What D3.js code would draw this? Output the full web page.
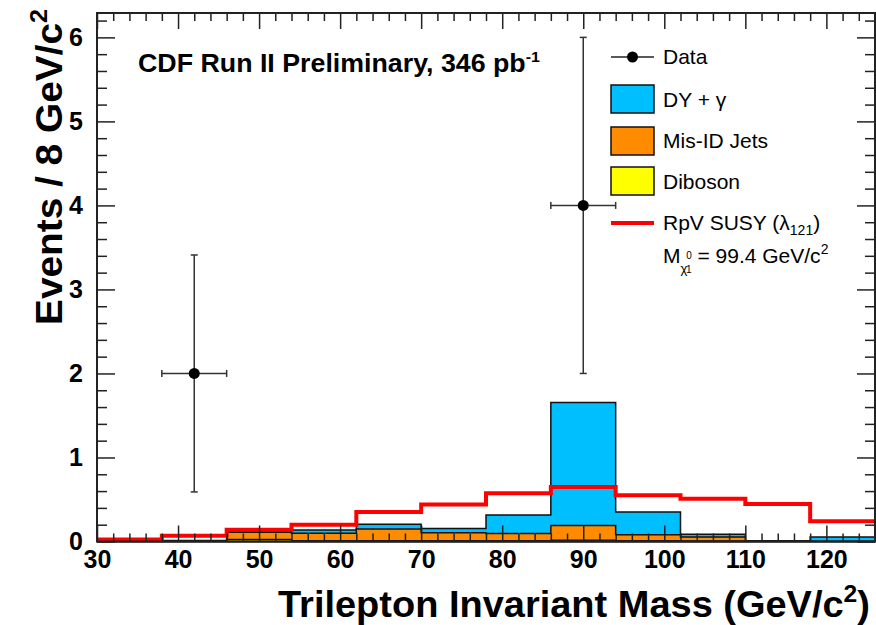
<!DOCTYPE html>
<html>
<head>
<meta charset="utf-8">
<script src="https://cdn.jsdelivr.net/npm/d3@7"></script>
<style>
  body { margin: 0; background: #fff; }
  svg { display: block; font-family: "Liberation Sans", Arial, Helvetica, sans-serif; }
</style>
</head>
<body>
<svg></svg>
<script>
// trilepton mass, CDF run II

const width = 876;
const height = 625;
const margin = { top: 13, right: 1, bottom: 83.5, left: 97 };

// bin edges (GeV/c^2), 8 GeV bins
const binEdges = [30, 38, 46, 54, 62, 70, 78, 86, 94, 102, 110, 118, 126];

// stacked backgrounds, events per bin
const diboson = [0, 0.005, 0.025, 0.01, 0.01, 0.01, 0.01, 0.015, 0.01, 0.005, 0.003, 0];
const misIdJets = [0, 0.005, 0.085, 0.088, 0.14, 0.095, 0.085, 0.175, 0.07, 0.05, 0.005, 0];
const dyGamma = [0, 0.002, 0.003, 0.039, 0.055, 0.05, 0.22, 1.465, 0.27, 0.031, 0.002, 0.055];

// signal curve
const rpvSusy = [0.025, 0.068, 0.14, 0.2, 0.35, 0.44, 0.575, 0.65, 0.55, 0.51, 0.445, 0.24];

// data points
const dataMass = [42, 90];
const dataCounts = [2, 4];
const dataErr = [1.41, 2];

const xTicks = [30, 40, 50, 60, 70, 80, 90, 100, 110, 120];
const yTicks = [0, 1, 2, 3, 4, 5, 6];

const svg = d3.select("svg").attr("width", width).attr("height", height);

const x = d3.scaleLinear()
  .domain([30, 126])
  .range([margin.left, width - margin.right]);

const y = d3.scaleLinear()
  .domain([0, 6.29])
  .range([height - margin.bottom, margin.top]);

//stack
const rows = binEdges.map((e, i) => {
  const j = Math.min(i, diboson.length - 1);
  return { edge: e, diboson: diboson[j], misid: misIdJets[j], dy: dyGamma[j] };
});
const stack = d3.stack().keys(["diboson", "misid", "dy"])(rows);
const colors = { dy: "#00bfff", misid: "#ff8c00", diboson: "#ffff00" };

const area = d3.area()
  .curve(d3.curveStepAfter)
  .x(d => x(d.data.edge))
  .y0(y(0))
  .y1(d => y(d[1]));

// draw total first, then lower layers on top (root style)
const layers = stack.slice().reverse();
svg.append("g")
  .selectAll("path")
  .data(layers)
  .join("path")
  .attr("d", area)
  .attr("fill", d => colors[d.key])
  .attr("stroke", "#111")
  .attr("stroke-width", 1.5);

//red signal line
const sig = binEdges.map((e, i) => ({ edge: e, v: rpvSusy[Math.min(i, rpvSusy.length - 1)] }));
svg.append("path")
  .datum(sig)
  .attr("d", d3.line().curve(d3.curveStepAfter).x(d => x(d.edge)).y(d => y(d.v)))
  .attr("fill", "none")
  .attr("stroke", "#ff0000")
  .attr("stroke-width", 4);

//axes
const axisColor = "#222";
const minorX = d3.range(30, 127, 2).filter(v => v % 10 !== 0);
const minorY = d3.range(0, 6.3, 0.2).filter(v => Math.abs(v - Math.round(v)) > 0.01);

function styleAxis(g) {
  g.select(".domain").remove();
  g.selectAll("line").attr("stroke", axisColor).attr("stroke-width", 1.5);
}

// bottom
svg.append("g")
  .attr("transform", `translate(0,${y(0)})`)
  .call(d3.axisBottom(x).tickValues(minorX).tickSize(-8).tickFormat(""))
  .call(styleAxis);
svg.append("g")
  .attr("transform", `translate(0,${y(0)})`)
  .call(d3.axisBottom(x).tickValues(xTicks).tickSize(-16).tickFormat(d3.format("d")))
  .call(styleAxis)
  .call(g => g.selectAll("text")
    .attr("y", 26).attr("dy", 0)
    .attr("fill", "#000")
    .attr("font-size", 25).attr("font-weight", "bold")
    .attr("font-family", "Liberation Sans, Arial, sans-serif"));

// top
svg.append("g")
  .attr("transform", `translate(0,${margin.top})`)
  .call(d3.axisTop(x).tickValues(minorX).tickSize(-8).tickFormat(""))
  .call(styleAxis);
svg.append("g")
  .attr("transform", `translate(0,${margin.top})`)
  .call(d3.axisTop(x).tickValues(xTicks).tickSize(-16).tickFormat(""))
  .call(styleAxis);

// left
svg.append("g")
  .attr("transform", `translate(${margin.left},0)`)
  .call(d3.axisLeft(y).tickValues(minorY).tickSize(-10).tickFormat(""))
  .call(styleAxis);
svg.append("g")
  .attr("transform", `translate(${margin.left},0)`)
  .call(d3.axisLeft(y).tickValues(yTicks).tickSize(-18).tickFormat(d3.format("d")))
  .call(styleAxis)
  .call(g => g.selectAll("text")
    .attr("x", -14)
    .attr("fill", "#000")
    .attr("font-size", 25).attr("font-weight", "bold")
    .attr("font-family", "Liberation Sans, Arial, sans-serif"));

// right
svg.append("g")
  .attr("transform", `translate(${width - margin.right},0)`)
  .call(d3.axisRight(y).tickValues(minorY).tickSize(-10).tickFormat(""))
  .call(styleAxis);
svg.append("g")
  .attr("transform", `translate(${width - margin.right},0)`)
  .call(d3.axisRight(y).tickValues(yTicks).tickSize(-18).tickFormat(""))
  .call(styleAxis);

// frame
svg.append("rect")
  .attr("x", margin.left)
  .attr("y", margin.top)
  .attr("width", width - margin.right - margin.left)
  .attr("height", y(0) - margin.top)
  .attr("fill", "none")
  .attr("stroke", axisColor)
  .attr("stroke-width", 2);

//data points
const pts = dataMass.map((m, i) => ({ m, n: dataCounts[i], e: dataErr[i] }));
const pg = svg.append("g").attr("stroke", "#333").attr("stroke-width", 1.5);
pts.forEach(p => {
  const cx = x(p.m), cy = y(p.n);
  const xl = x(p.m - 4), xr = x(p.m + 4);
  const yt = y(p.n + p.e), yb = y(p.n - p.e);
  pg.append("line").attr("x1", cx).attr("x2", cx).attr("y1", yt).attr("y2", yb);
  pg.append("line").attr("x1", xl).attr("x2", xr).attr("y1", cy).attr("y2", cy);
  pg.append("line").attr("x1", cx - 3.5).attr("x2", cx + 3.5).attr("y1", yt).attr("y2", yt);
  pg.append("line").attr("x1", cx - 3.5).attr("x2", cx + 3.5).attr("y1", yb).attr("y2", yb);
  pg.append("line").attr("x1", xl).attr("x2", xl).attr("y1", cy - 3.5).attr("y2", cy + 3.5);
  pg.append("line").attr("x1", xr).attr("x2", xr).attr("y1", cy - 3.5).attr("y2", cy + 3.5);
});
svg.append("g")
  .selectAll("circle")
  .data(pts)
  .join("circle")
  .attr("cx", d => x(d.m))
  .attr("cy", d => y(d.n))
  .attr("r", 5.5)
  .attr("fill", "#000");

//legend
const lg = svg.append("g");
const lx = 611, lw = 43, tx = 663;
lg.append("line").attr("x1", lx).attr("x2", lx + lw).attr("y1", 57).attr("y2", 57)
  .attr("stroke", "#222").attr("stroke-width", 1.5);
lg.append("circle").attr("cx", lx + 21.5).attr("cy", 57).attr("r", 5.5).attr("fill", "#000");

const boxes = [
  { key: "dy", y0: 85, label: "DY + \u03b3" },
  { key: "misid", y0: 127, label: "Mis-ID Jets" },
  { key: "diboson", y0: 167, label: "Diboson" }
];
boxes.forEach(b => {
  lg.append("rect").attr("x", lx).attr("y", b.y0).attr("width", lw).attr("height", 28)
    .attr("fill", colors[b.key]).attr("stroke", "#111").attr("stroke-width", 1.5);
});
lg.append("line").attr("x1", lx).attr("x2", lx + lw).attr("y1", 223).attr("y2", 223)
  .attr("stroke", "#ff0000").attr("stroke-width", 4);

function ltext(yy) {
  return lg.append("text").attr("x", tx).attr("y", yy)
    .attr("font-size", 21).attr("fill", "#000");
}
ltext(64).text("Data");
ltext(107).text("DY + \u03b3");
ltext(148).text("Mis-ID Jets");
ltext(189).text("Diboson");
const rt = ltext(230);
rt.append("tspan").text("RpV SUSY (\u03bb");
rt.append("tspan").attr("font-size", 14).attr("dy", 5).text("121");
rt.append("tspan").attr("dy", -5).text(")");
const mt = ltext(263);
mt.append("tspan").text("M");
mt.append("tspan").attr("font-size", 13).attr("dy", 10).text("\u03c7");
mt.append("tspan").attr("font-size", 10).attr("dx", -1).attr("dy", -14).text("0");
mt.append("tspan").attr("font-size", 10).attr("dx", -6).attr("dy", 14).text("1");
mt.append("tspan").attr("dx", 6).attr("dy", -10).text("= 99.4 GeV/c");
mt.append("tspan").attr("font-size", 14).attr("dy", -9).text("2");

//title
const title = svg.append("text")
  .attr("x", 138).attr("y", 72)
  .attr("font-size", 25).attr("font-weight", "bold").attr("fill", "#000")
  .attr("textLength", 402).attr("lengthAdjust", "spacingAndGlyphs");
title.append("tspan").text("CDF Run II Preliminary, 346 pb");
title.append("tspan").attr("font-size", 15).attr("dy", -10).text("-1");

//etiqueta x
const xl = svg.append("text")
  .attr("x", 278).attr("y", 617)
  .attr("font-size", 37).attr("font-weight", "bold").attr("fill", "#000")
  .attr("textLength", 592).attr("lengthAdjust", "spacingAndGlyphs");
xl.append("tspan").text("Trilepton Invariant Mass (GeV/c");
xl.append("tspan").attr("font-size", 24).attr("dy", -15).text("2");
xl.append("tspan").attr("dy", 15).text(")");

//etiqueta y
const yl = svg.append("text")
  .attr("transform", "translate(62,325) rotate(-90)")
  .attr("font-size", 37).attr("font-weight", "bold").attr("fill", "#000")
  .attr("textLength", 316).attr("lengthAdjust", "spacingAndGlyphs");
yl.append("tspan").text("Events / 8 GeV/c");
yl.append("tspan").attr("font-size", 24).attr("dy", -15).text("2");
</script>
</body>
</html>
